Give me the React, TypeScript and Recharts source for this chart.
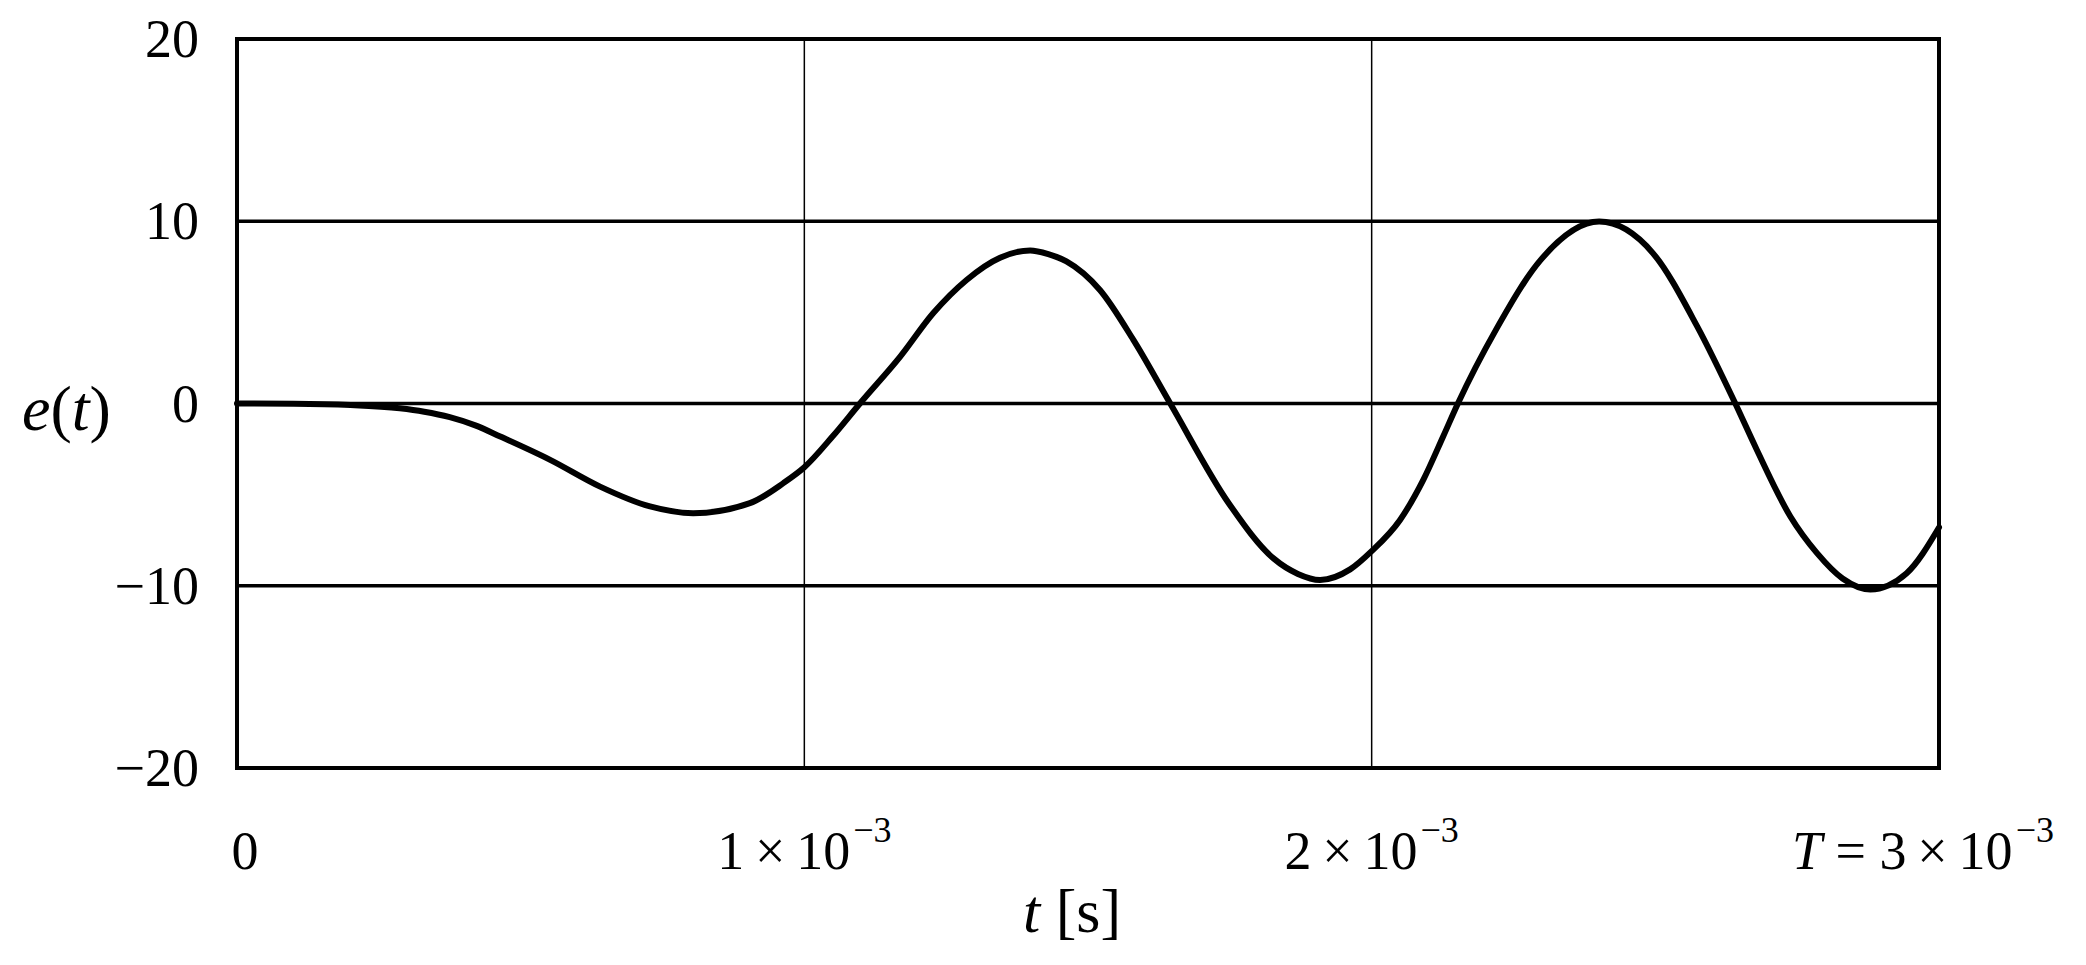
import {
  CartesianGrid,
  Line,
  LineChart,
  ReferenceArea,
  XAxis,
  YAxis,
} from "recharts";

// time in units of 1e-3 s, e(t)
const tMs = [
  0, 0.1, 0.2, 0.287, 0.33, 0.375, 0.42, 0.464, 0.552, 0.64, 0.728, 0.804,
  0.904, 0.963, 1.0, 1.05, 1.098, 1.169, 1.227, 1.286, 1.345, 1.398, 1.43,
  1.462, 1.521, 1.58, 1.645, 1.748, 1.827, 1.87, 1.909, 1.962, 2.0, 2.05,
  2.091, 2.126, 2.152, 2.219, 2.298, 2.401, 2.496, 2.574, 2.641, 2.679, 2.738,
  2.785, 2.83, 2.879, 2.943, 3.0,
];
const eValues = [
  0, -0.01, -0.08, -0.26, -0.45, -0.75, -1.2, -1.81, -3.09, -4.56, -5.65,
  -6.02, -5.47, -4.37, -3.5, -1.8, 0, 2.57, 4.95, 6.78, 8.0, 8.4, 8.2, 7.8,
  6.23, 3.49, 0, -5.47, -8.5, -9.35, -9.68, -9.1, -8.1, -6.39, -4.19, -1.81,
  0, 4.04, 7.88, 9.98, 8.24, 4.22, 0, -2.55, -6.2, -8.21, -9.6, -10.2, -9.31,
  -6.8,
];

const yTicks = [-20, -10, 0, 10, 20];
const yTickLabels = ["\u221220", "\u221210", "0", "10", "20"];
const xTicks = [0, 1, 2, 3];
const xTickLabels = [
  { pre: "", num: "0", exp: "" },
  { pre: "", num: "1\u2009\u00d7\u200910", exp: "\u22123" },
  { pre: "", num: "2\u2009\u00d7\u200910", exp: "\u22123" },
  { pre: "T", num: " = 3\u2009\u00d7\u200910", exp: "\u22123" },
];

const data = tMs.map((t, i) => ({ t, e: eValues[i] }));

const FONT = '"Liberation Serif", "Times New Roman", serif';

function XTick(props: any) {
  const { x, y, payload } = props;
  const i = xTicks.indexOf(payload.value);
  const lab = xTickLabels[i];
  if (!lab) return null;
  const shift = i === 0 ? 8 : i === xTicks.length - 1 ? -16 : 0;
  return (
    <text
      x={x + shift}
      y={y + 101}
      textAnchor="middle"
      fontFamily={FONT}
      fontSize={54}
      fill="#000"
    >
      {lab.pre && <tspan fontStyle="italic">{lab.pre}</tspan>}
      <tspan>{lab.num}</tspan>
      {lab.exp && (
        <tspan fontSize={36} dx={3} dy={-27}>
          {lab.exp}
        </tspan>
      )}
    </text>
  );
}

function YTick(props: any) {
  const { x, y, payload } = props;
  const i = yTicks.indexOf(payload.value);
  return (
    <text
      x={x}
      y={y}
      textAnchor="end"
      dominantBaseline="central"
      fontFamily={FONT}
      fontSize={54}
      fill="#000"
    >
      {yTickLabels[i]}
    </text>
  );
}

function YTitle(props: any) {
  const vb = props.viewBox || { x: 0, y: 39, width: 237, height: 729 };
  return (
    <text
      x={vb.x + 22}
      y={vb.y + vb.height / 2 + 4}
      dominantBaseline="central"
      fontFamily={FONT}
      fontSize={64}
      fill="#000"
    >
      <tspan fontStyle="italic">e</tspan>
      <tspan>(</tspan>
      <tspan fontStyle="italic">t</tspan>
      <tspan>)</tspan>
    </text>
  );
}

function XTitle(props: any) {
  const vb = props.viewBox || { x: 237, y: 768, width: 1702, height: 180 };
  return (
    <text
      x={vb.x + vb.width / 2 - 16}
      y={vb.y + 164}
      textAnchor="middle"
      fontFamily={FONT}
      fontSize={62}
      fill="#000"
    >
      <tspan fontStyle="italic">t</tspan>
      <tspan> [s]</tspan>
    </text>
  );
}

export default function App() {
  return (
    <div style={{ position: "absolute", left: 0, top: 0, background: "#fff" }}>
      <LineChart
        width={2086}
        height={965}
        data={data}
        margin={{ top: 39, right: 147, left: 0, bottom: 17 }}
      >
        <CartesianGrid
          vertical={false}
          stroke="#000"
          strokeWidth={3.5}
          horizontalValues={yTicks}
        />
        <CartesianGrid
          horizontal={false}
          stroke="#000"
          strokeWidth={1.5}
          verticalValues={xTicks}
        />
        <XAxis
          dataKey="t"
          type="number"
          domain={[0, 3]}
          ticks={xTicks}
          axisLine={false}
          tickLine={false}
          tickSize={0}
          tickMargin={0}
          height={180}
          tick={<XTick />}
          interval={0}
          label={{ content: <XTitle /> }}
        />
        <YAxis
          type="number"
          domain={[-20, 20]}
          ticks={yTicks}
          axisLine={false}
          tickLine={false}
          tickSize={0}
          tickMargin={38}
          width={237}
          tick={<YTick />}
          interval={0}
          label={{ content: <YTitle /> }}
        />
        <ReferenceArea
          x1={0}
          x2={3}
          y1={-20}
          y2={20}
          fill="none"
          stroke="#000"
          strokeWidth={4}
          ifOverflow="visible"
        />
        <Line
          type="monotoneX"
          dataKey="e"
          stroke="#000"
          strokeWidth={6}
          strokeLinecap="round"
          dot={false}
          activeDot={false}
          isAnimationActive={false}
        />
      </LineChart>
    </div>
  );
}
